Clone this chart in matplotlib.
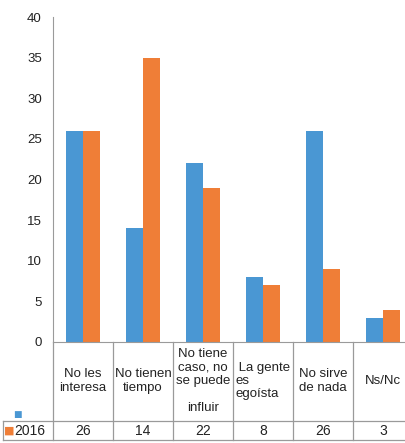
import matplotlib.pyplot as plt
import matplotlib.transforms as mtransforms
import numpy as np

# =========================
# DATA
# =========================
categories = [
    "No les\ninteresa",
    "No tienen\ntiempo",
    "No tiene\ncaso, no\nse puede\n\ninfluir",
    " La gente\nes\negoísta",
    "No sirve\nde nada",
    "Ns/Nc",
]
serie_azul = [26, 14, 22, 8, 26, 3]
serie_2016 = [26, 35, 19, 7, 9, 4]
fila_tabla = [26, 14, 22, 8, 26, 3]
etiqueta_fila = "2016"
yticks = [0, 5, 10, 15, 20, 25, 30, 35, 40]

BLUE = "#4a97d3"
ORANGE = "#ef7e37"
GRID = "#9a9a9a"
TXT = "#222222"

plt.rcParams["font.family"] = ["Liberation Sans", "DejaVu Sans"]

W, H = 405, 443
fig = plt.figure(figsize=(W / 100, H / 100), dpi=100)
ax = fig.add_axes([53 / W, 101 / H, 360 / W, 325 / H])

x = np.arange(len(categories))
bw = 0.283
ax.bar(x - bw / 2, serie_azul, bw, color=BLUE)
ax.bar(x + bw / 2, serie_2016, bw, color=ORANGE)

ax.set_xlim(-0.5, len(categories) - 0.5)
ax.set_ylim(0, 40)
ax.set_yticks(yticks)
ax.tick_params(axis="y", length=0, pad=8, labelsize=9.5, labelcolor=TXT)
ax.set_xticks([])

for s in ["top", "right"]:
    ax.spines[s].set_visible(False)
ax.spines["left"].set_color(GRID)
ax.spines["bottom"].set_color(GRID)

# =========================
# TABLE UNDER THE AXIS
# =========================
px = 1 / 325  # one pixel in axes units (vertical)
row_top = 0
row_mid = -(421 - 342) * px
row_bot = -(440 - 342) * px
blend = mtransforms.blended_transform_factory(ax.transData, ax.transAxes)

for b in np.arange(-0.5, len(categories) + 0.5, 1):
    ax.plot([b, b], [row_top, row_bot], color=GRID, lw=0.9,
            transform=blend, clip_on=False)

left_cell = -(53 - 3) / 360
for yy in [row_mid, row_bot]:
    ax.plot([left_cell, 1], [yy, yy], color=GRID, lw=0.9,
            transform=ax.transAxes, clip_on=False)
ax.plot([left_cell, left_cell], [row_mid, row_bot], color=GRID, lw=0.9,
        transform=ax.transAxes, clip_on=False)

for i, lab in enumerate(categories):
    ax.text(i, -(381 - 342) * px, lab, transform=blend, ha="center",
            va="center", fontsize=9.5, color=TXT, linespacing=1.15,
            multialignment="left" if i == 3 else "center")

for i, v in enumerate(fila_tabla):
    ax.text(i, -(431 - 342) * px, str(v), transform=blend, ha="center",
            va="center", fontsize=10, color=TXT)

# legend keys in the table
ax.text(left_cell + 1 / 360, -(431 - 342) * px, "\u25a0", color=ORANGE,
        transform=ax.transAxes, ha="left", va="center", fontsize=8,
        family="DejaVu Sans")
ax.text(left_cell + 11 / 360, -(431 - 342) * px, etiqueta_fila, color=TXT,
        transform=ax.transAxes, ha="left", va="center", fontsize=10)
ax.text(left_cell + 10 / 360, -(414 - 342) * px, "\u25a0", color=BLUE,
        transform=ax.transAxes, ha="left", va="center", fontsize=6.5,
        family="DejaVu Sans")

fig.savefig("out.png", dpi=100)
